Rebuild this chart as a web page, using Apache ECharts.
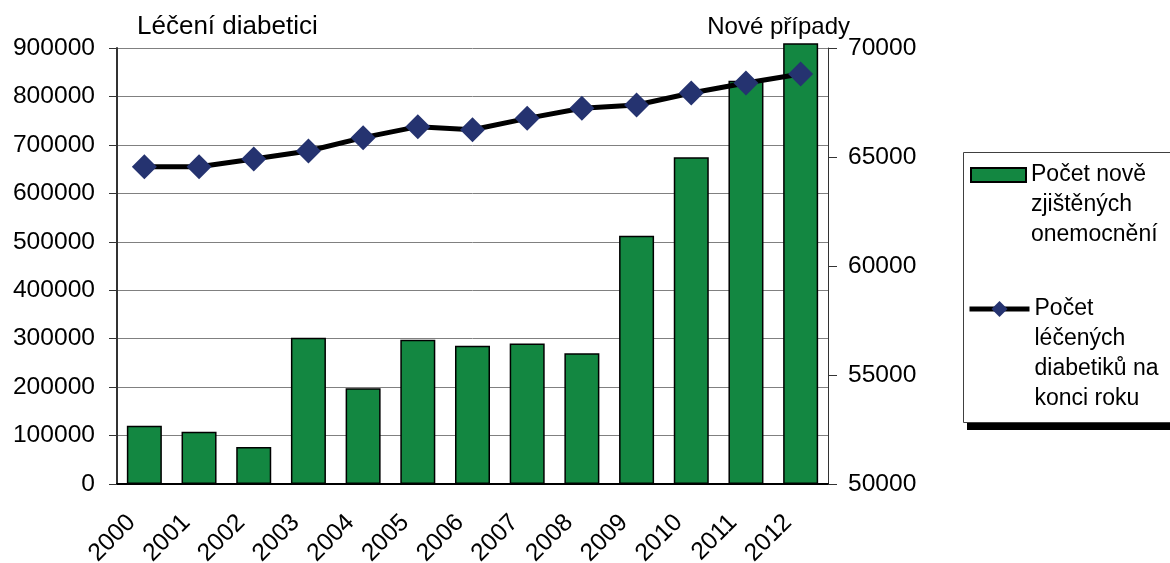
<!DOCTYPE html>
<html lang="cs" style="height: 100%">
<head>
  <meta charset="utf-8">
</head>
<body style="height: 100%; margin: 0; background: #fff">
  <div id="container" style="width: 1170px; height: 563px"></div>

  <script type="text/javascript" src="https://cdn.jsdelivr.net/npm/echarts@6/dist/echarts.min.js"></script>

  <script type="text/javascript">
    var years = ['2000', '2001', '2002', '2003', '2004', '2005', '2006', '2007', '2008', '2009', '2010', '2011', '2012'];
    // nove zjistene pripady (prava osa)
    var newCases = [52670, 52400, 51700, 56710, 54390, 56620, 56340, 56450, 56000, 61390, 64990, 68500, 70215];
    // leceni diabetici na konci roku (leva osa)
    var treated = [655000, 655000, 670900, 687400, 714900, 737600, 731400, 754800, 775500, 782300, 807100, 827800, 846300];

    var barName = 'Počet nově zjištěných onemocnění';
    var lineName = 'Počet léčených diabetiků na konci roku';

    var font = 'Liberation Sans, Arial, sans-serif';
    var dom = document.getElementById('container');
    var myChart = echarts.init(dom, null, { renderer: 'canvas' });

    var legendText = {
      fontFamily: font,
      fontSize: 23,
      lineHeight: 30,
      color: '#000'
    };

    var option = {
      animation: false,
      title: [
        { text: 'Léčení diabetici', left: 132, top: 9, textStyle: { fontFamily: font, fontSize: 26, fontWeight: 'normal', color: '#000' } },
        { text: 'Nové případy', right: 315, top: 10, textStyle: { fontFamily: font, fontSize: 24, fontWeight: 'normal', color: '#000' } }
      ],
      graphic: [
        { type: 'rect', z: 0, shape: { x: 967, y: 423, width: 220, height: 7 }, style: { fill: '#000' } },
        { type: 'rect', z: 1, shape: { x: 963.5, y: 152.5, width: 230, height: 270 }, style: { fill: '#fff', stroke: '#404040', lineWidth: 1 } }
      ],
      legend: [
        {
          data: [barName],
          left: 970, top: 100, padding: 0,
          icon: 'rect',
          itemWidth: 55, itemHeight: 14,
          // prazdne radky nahore, aby ikona stala u prvniho radku
          formatter: function () { return '\n\nPočet nově\nzjištěných\nonemocnění'; },
          textStyle: legendText
        },
        {
          data: [lineName],
          left: 967, top: 204, padding: 0,
          itemWidth: 60, itemHeight: 20,
          lineStyle: { width: 5, color: '#000' },
          formatter: function () { return '\n\n\nPočet\nléčených\ndiabetiků na\nkonci roku'; },
          textStyle: legendText
        }
      ],
      grid: { left: 117, right: 342, top: 48, bottom: 79, containLabel: false, outerBoundsMode: 'none' },
      xAxis: {
        type: 'category',
        data: years,
        axisLine: { lineStyle: { color: '#000', width: 2 } },
        axisTick: { show: false },
        axisLabel: { rotate: 45, margin: 22, padding: [0, 18, 0, 0], fontFamily: font, fontSize: 24.6, color: '#000' }
      },
      yAxis: [
        {
          type: 'value',
          min: 0, max: 900000, interval: 100000,
          axisLine: { show: true, lineStyle: { color: '#333', width: 2 } },
          axisTick: { show: true, length: 8, lineStyle: { color: '#333' } },
          splitLine: { lineStyle: { color: '#808080', width: 1 } },
          axisLabel: { fontFamily: font, fontSize: 24.6, color: '#000', margin: 22, formatter: function (v) { return String(v); } }
        },
        {
          type: 'value',
          min: 50000, max: 70000, interval: 5000,
          startValue: 50000,
          position: 'right',
          axisLine: { show: true, lineStyle: { color: '#333', width: 1 } },
          axisTick: { show: true, length: 9, lineStyle: { color: '#333' } },
          splitLine: { show: false },
          axisLabel: { fontFamily: font, fontSize: 24.6, color: '#000', margin: 20, formatter: function (v) { return String(v); } }
        }
      ],
      series: [
        {
          name: barName,
          type: 'bar',
          yAxisIndex: 1,
          data: newCases,
          barWidth: '64%',
          clip: false,
          itemStyle: { color: '#138741', borderColor: '#000', borderWidth: 1.5 }
        },
        {
          name: lineName,
          type: 'line',
          yAxisIndex: 0,
          data: treated,
          symbol: 'diamond',
          symbolSize: 25,
          z: 5,
          lineStyle: { color: '#000', width: 5 },
          itemStyle: { color: '#253370', borderWidth: 0 }
        }
      ]
    };

    myChart.setOption(option);
    window.addEventListener('resize', myChart.resize);
  </script>
</body>
</html>
